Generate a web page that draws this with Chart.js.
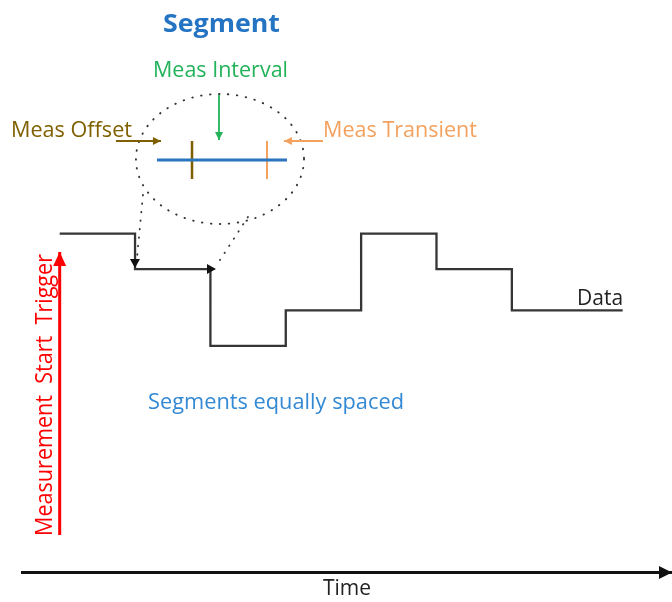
<!DOCTYPE html>
<html>
<head>
<meta charset="utf-8">
<script src="https://cdn.jsdelivr.net/npm/chart.js@4.4.1/dist/chart.umd.min.js"></script>
<style>
    html, body { margin: 0; padding: 0; background: #fff; }
    canvas { display: block; }
</style>
</head>
<body>
<canvas id="segmentChart" width="672" height="602"></canvas>
<script>
// measured data, stepped: segment start (segment units) and level held
const stepTimes = [0, 1, 2, 3, 4, 5, 6, 7.47];
const stepLevels = [4, 3.05, 1, 1.95, 4, 3.05, 1.95, 1.95];

// callout pieces, in the same time / level units
const triggerX = [0, 0], triggerY = [-4.06, 3.51];
const intervalX = [2.114, 2.114], intervalY = [7.71, 6.505];
const offsetX = [0.747, 1.344], offsetY = [6.478, 6.478];
const transientX = [3.494, 2.976], transientY = [6.478, 6.478];
const segBarX = [1.291, 3.016], segBarY = [5.97, 5.97];
const offsetTickX = [1.756, 1.756], transientTickX = [2.751, 2.751], tickY = [6.478, 5.462];
const zoomLeftX = [1.105, 1.026], zoomLeftY = [5.034, 3.349];
const zoomRightX = [2.498, 2.127], zoomRightY = [4.446, 3.295];
const headDownX = [0.999, 0.999], headDownY = [3.456, 3.082];
const headRightX = [1.902, 2.074], headRightY = [3.055, 3.055];
const lensCenter = [2.127, 5.997], lensRadius = [1.115, 1.739];

// text labels
const labelText = ['Segment', 'Meas Interval', 'Meas Offset', 'Meas Transient', 'Data',
    'Segments equally spaced', 'Measurement  Start  Trigger'];
const labelX = [2.147, 2.134, 0.157, 4.516, 7.170, 2.870, -0.102];
const labelY = [9.402, 8.198, 6.594, 6.594, 2.092, -0.690, -0.315];
const labelWidth = [117, 135, 121, 154, 46, 256, 282];
const labelColor = ['#2574C4', '#22B35A', '#7F6000', '#F4A15E', '#222', '#3389D3', '#FF0000'];
const labelFont = ['bold 25px "Open Sans"', '21px "Open Sans"', '21px "Open Sans"', '21px "Open Sans"',
    '21px "Open Sans"', '21px "Open Sans"', '24px "Open Sans"'];

const pts = (xs, ys) => xs.map((x, i) => ({ x: x, y: ys[i] }));

function seg(xs, ys, color, width, extra) {
    return Object.assign({
        data: pts(xs, ys),
        borderColor: color,
        borderWidth: width,
        pointRadius: 0,
        fill: false
    }, extra || {});
}

function tri(ctx, x, y, ang, len, half, color) {
    ctx.save();
    ctx.translate(x, y);
    ctx.rotate(ang);
    ctx.fillStyle = color;
    ctx.beginPath();
    ctx.moveTo(0, 0);
    ctx.lineTo(-len, -half);
    ctx.lineTo(-len, half);
    ctx.closePath();
    ctx.fill();
    ctx.restore();
}

const lensPlugin = {
    id: 'lens',
    beforeDatasetsDraw(chart) {
        const { ctx, scales: { x, y } } = chart;
        const cx = x.getPixelForValue(lensCenter[0]);
        const cy = y.getPixelForValue(lensCenter[1]);
        const rx = x.getPixelForValue(lensCenter[0] + lensRadius[0]) - cx;
        const ry = cy - y.getPixelForValue(lensCenter[1] + lensRadius[1]);
        ctx.save();
        ctx.strokeStyle = '#333';
        ctx.lineWidth = 1.9;
        ctx.lineCap = 'round';
        ctx.setLineDash([0.5, 8.5]);
        ctx.beginPath();
        ctx.ellipse(cx, cy, rx, ry, 0, 0, Math.PI * 2);
        ctx.stroke();
        ctx.restore();
    }
};

// arrow heads at the last point of datasets that ask for one, plus the time axis tip
const arrowPlugin = {
    id: 'arrows',
    afterDatasetsDraw(chart) {
        const ctx = chart.ctx;
        chart.data.datasets.forEach((ds, i) => {
            if (!ds.head) return;
            const els = chart.getDatasetMeta(i).data;
            const a = els[els.length - 2], b = els[els.length - 1];
            const ang = Math.atan2(b.y - a.y, b.x - a.x);
            tri(ctx, b.x, b.y, ang, ds.head[0], ds.head[1], ds.headColor || ds.borderColor);
        });
    },
    afterDraw(chart) {
        const xs = chart.scales.x;
        tri(chart.ctx, xs.right, xs.top + 0.5, 0, 13, 6.5, '#111');
    }
};

const labelPlugin = {
    id: 'labels',
    afterDatasetsDraw(chart) {
        const { ctx, scales: { x, y } } = chart;
        labelText.forEach((txt, i) => {
            const px = x.getPixelForValue(labelX[i]);
            const py = y.getPixelForValue(labelY[i]);
            ctx.save();
            ctx.font = labelFont[i];
            ctx.fillStyle = labelColor[i];
            ctx.textAlign = 'center';
            ctx.textBaseline = 'alphabetic';
            const sx = labelWidth[i] / ctx.measureText(txt).width;
            ctx.translate(px, py);
            if (i === 6) ctx.rotate(-Math.PI / 2);
            ctx.scale(sx, 1);
            ctx.fillText(txt, 0, 0);
            ctx.restore();
        });
    }
};

new Chart(document.getElementById('segmentChart').getContext('2d'), {
    type: 'line',
    data: {
        datasets: [
            seg(stepTimes, stepLevels, '#353535', 2.3, { stepped: true }),
            seg(triggerX, triggerY, '#FF0000', 3, { head: [14, 6.5] }),
            seg(intervalX, intervalY, '#22B35A', 1.8, { head: [8, 4] }),
            seg(offsetX, offsetY, '#7F6000', 1.8, { head: [8, 4] }),
            seg(transientX, transientY, '#F4A15E', 1.8, { head: [8, 4] }),
            seg(segBarX, segBarY, '#2A74C0', 3),
            seg(offsetTickX, tickY, '#7F6000', 2.5),
            seg(transientTickX, tickY, '#F4A15E', 2),
            seg(zoomLeftX, zoomLeftY, '#333', 1.8, { borderDash: [0.5, 8], borderCapStyle: 'round' }),
            seg(zoomRightX, zoomRightY, '#333', 1.8, { borderDash: [0.5, 8], borderCapStyle: 'round' }),
            seg(headDownX, headDownY, 'rgba(0,0,0,0)', 0, { head: [9, 5], headColor: '#111' }),
            seg(headRightX, headRightY, 'rgba(0,0,0,0)', 0, { head: [9, 5], headColor: '#111' })
        ]
    },
    options: {
        responsive: false,
        animation: false,
        devicePixelRatio: 1,
        layout: { padding: { left: 22, right: 0, top: 0, bottom: 0 }, autoPadding: false },
        plugins: {
            legend: { display: false },
            tooltip: { enabled: false }
        },
        scales: {
            x: {
                type: 'linear',
                min: -0.5,
                max: 8.125,
                grid: { display: false, drawTicks: false },
                ticks: { display: false },
                border: { display: true, color: '#111', width: 3 },
                title: {
                    display: true,
                    text: 'Time',
                    color: '#222',
                    font: { family: 'Open Sans', size: 21, lineHeight: 1.2 },
                    padding: { top: 4.8, bottom: 0 }
                }
            },
            y: {
                type: 'linear',
                display: false,
                min: -5.05,
                max: 10.25
            }
        }
    },
    plugins: [lensPlugin, arrowPlugin, labelPlugin]
});
</script>
</body>
</html>
